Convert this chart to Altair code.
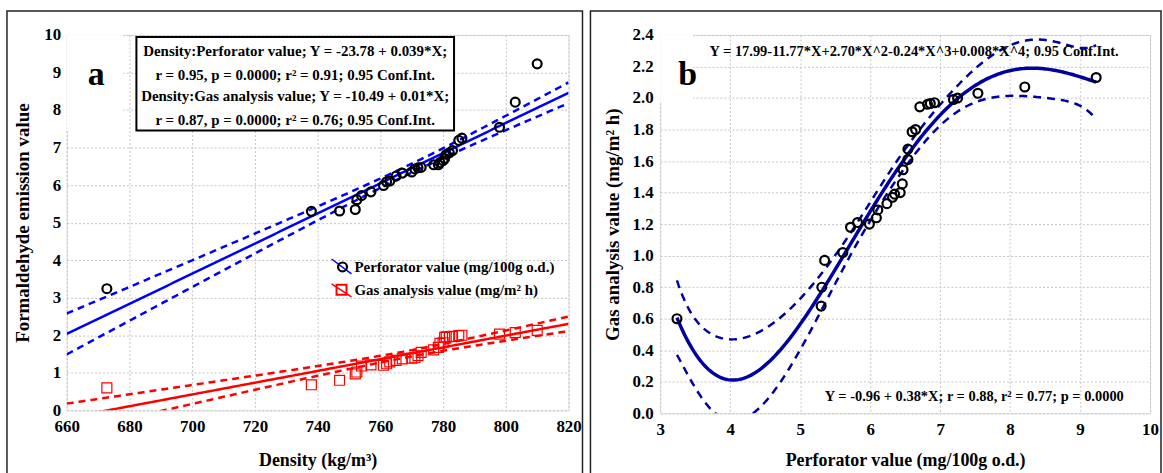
import altair as alt
import numpy as np
import pandas as pd

# ---------------- data ----------------
density = [672.8, 738.0, 747.0, 752.0, 752.5, 754.0, 757.0, 761.0, 762.0, 763.0,
           765.0, 767.0, 770.0, 771.0, 772.0, 773.0, 777.0, 778.5, 779.0, 780.0,
           780.5, 781.0, 782.0, 783.0, 785.0, 786.0, 798.0, 803.0, 810.0]
perforator = [3.24, 5.30, 5.31, 5.35, 5.61, 5.72, 5.82, 5.99, 6.09, 6.11,
              6.24, 6.32, 6.35, 6.43, 6.46, 6.47, 6.54, 6.54, 6.60, 6.65,
              6.71, 6.82, 6.86, 6.92, 7.19, 7.25, 7.54, 8.21, 9.23]
gas = [0.60, 0.68, 0.80, 0.97, 1.02, 1.18, 1.21, 1.20, 1.24, 1.29,
       1.33, 1.37, 1.39, 1.40, 1.455, 1.545, 1.61, 1.676, 1.786, 1.80,
       1.944, 1.96, 1.965, 1.97, 1.99, 2.00, 2.03, 2.07, 2.13]

x_ticks_a = [660, 680, 700, 720, 740, 760, 780, 800, 820]
y_ticks_a = [0, 1, 2, 3, 4, 5, 6, 7, 8, 9, 10]
x_ticks_b = [3, 4, 5, 6, 7, 8, 9, 10]
y_ticks_b = [0.0, 0.2, 0.4, 0.6, 0.8, 1.0, 1.2, 1.4, 1.6, 1.8, 2.0, 2.2, 2.4]

label_perf = "Perforator value (mg/100g o.d.)"
label_gas = "Gas analysis value (mg/m² h)"
note_a = ["Density:Perforator value; Y = -23.78 + 0.039*X;",
          "r = 0.95, p = 0.0000; r² = 0.91; 0.95 Conf.Int.",
          "Density:Gas analysis value; Y = -10.49 + 0.01*X;",
          "r = 0.87, p = 0.0000; r² = 0.76; 0.95 Conf.Int."]
note_b_top = "Y = 17.99-11.77*X+2.70*X^2-0.24*X^3+0.008*X^4; 0.95 Conf.Int."
note_b_bottom = "Y = -0.96 + 0.38*X; r = 0.88, r² = 0.77; p = 0.0000"

FONT = "Liberation Serif, Times New Roman, Times, serif"

# ---------------- fits (computed from the data) ----------------
d = np.array(density)
p = np.array(perforator)
g = np.array(gas)


def poly_band(x, y, grid, deg, t):
    X = np.vander(x, deg + 1)
    coef, *_ = np.linalg.lstsq(X, y, rcond=None)
    resid = y - X @ coef
    s2 = resid @ resid / (len(x) - deg - 1)
    cov = s2 * np.linalg.inv(X.T @ X)
    G = np.vander(grid, deg + 1)
    yhat = G @ coef
    se = np.sqrt(np.einsum("ij,jk,ik->i", G, cov, G))
    return yhat, yhat - t * se, yhat + t * se


grid_a = np.linspace(660, 820, 161)
grid_b = np.linspace(p.min(), p.max(), 240)


def band_frame(grid, fit):
    yhat, lo, hi = fit
    rows = []
    for part, arr in (("fit", yhat), ("lo", lo), ("hi", hi)):
        for xv, yv in zip(grid, arr):
            rows.append({"x": float(xv), "y": float(yv), "part": part})
    return pd.DataFrame(rows)


fit_perf = band_frame(grid_a, poly_band(d, p, grid_a, 1, 2.052))
fit_gas = band_frame(grid_a, poly_band(d, g, grid_a, 1, 2.052))
fit_b = band_frame(grid_b, poly_band(p, g, grid_b, 4, 2.064))

pts_perf = pd.DataFrame({"x": density, "y": perforator})
pts_gas = pd.DataFrame({"x": density, "y": gas})
pts_b = pd.DataFrame({"x": perforator, "y": gas})

# ---------------- helpers ----------------
axis_common = dict(
    labelFont=FONT, labelFontSize=17, labelFontWeight="bold", labelColor="black",
    titleFont=FONT, titleFontWeight="bold", titleColor="black",
    grid=True, gridColor="#c4c4c4", gridDash=[2, 2], gridWidth=1,
    domain=False, ticks=False, labelFlush=False, labelOverlap=False,
)


def one(d=None):
    return alt.Data(values=[d or {"k": 0}])


def text(s, x, y, size, align="center", baseline="middle"):
    return alt.Chart(one({"t": s})).mark_text(
        font=FONT, fontWeight="bold", fontSize=size, align=align,
        baseline=baseline, color="black"
    ).encode(x=alt.value(x), y=alt.value(y), text="t:N")


def rect(x, x2, y, y2, **kw):
    return alt.Chart(one()).mark_rect(**kw).encode(
        x=alt.value(x), x2=alt.value(x2), y=alt.value(y), y2=alt.value(y2))


def rule(x, x2, y, y2, color, width):
    return alt.Chart(one()).mark_rule(color=color, strokeWidth=width).encode(
        x=alt.value(x), x2=alt.value(x2), y=alt.value(y), y2=alt.value(y2))


def marker(x, y, shape, color, size, width):
    return alt.Chart(one()).mark_point(
        shape=shape, filled=False, color=color, size=size, strokeWidth=width, opacity=1
    ).encode(x=alt.value(x), y=alt.value(y))


# ---------------- panel a ----------------
WA, HA = 504, 377
XA = alt.X("x:Q", scale=alt.Scale(domain=[660, 820], nice=False, zero=False),
           axis=alt.Axis(title="Density (kg/m³)", values=x_ticks_a, format="d",
                         titleFontSize=18, labelPadding=8, titlePadding=17, **axis_common))
YA = alt.Y("y:Q", scale=alt.Scale(domain=[0, 10], nice=False, zero=False),
           axis=alt.Axis(title="Formaldehyde emission value", values=y_ticks_a, format="d",
                         titleFontSize=19, labelPadding=6, titlePadding=11, **axis_common))


def lines(df, color, solid_w, dash_w, dash):
    base = alt.Chart(df)
    solid = base.transform_filter(alt.datum.part == "fit").mark_line(
        color=color, strokeWidth=solid_w, clip=True).encode(x=XA, y=YA)
    dashed = base.transform_filter(alt.datum.part != "fit").mark_line(
        color=color, strokeWidth=dash_w, strokeDash=dash, clip=True).encode(
        x=XA, y=YA, detail="part:N")
    return solid + dashed


panel_a = alt.layer(
    rect(0, 57, 0, 96, fill="white", strokeWidth=0),
    lines(fit_perf, "#0000ff", 2.5, 2.5, [7, 5]),
    lines(fit_gas, "#ff0000", 2.5, 2.5, [7, 5]),
    alt.Chart(pts_gas).mark_point(shape="square", filled=False, color="#ff0000",
                                  size=100, strokeWidth=1.2, opacity=1).encode(x=XA, y=YA),
    alt.Chart(pts_perf).mark_point(shape="circle", filled=False, color="black",
                                   size=80, strokeWidth=2.2, opacity=1).encode(x=XA, y=YA),
    rect(70, 389, 2, 96, fill="white", stroke="black", strokeWidth=2),
    text(note_a[0], 229.5, 16, 15),
    text(note_a[1], 229.5, 40, 15),
    text(note_a[2], 229.5, 61, 15),
    text(note_a[3], 229.5, 85, 15),
    text("a", 29.5, 50, 34, baseline="alphabetic"),
    rule(266, 286, 225, 240, "#0000ff", 1.5),
    marker(277, 233, "circle", "black", 80, 2.2),
    text(label_perf, 289, 233, 15, align="left"),
    rule(266, 286, 250, 263, "#ff0000", 1.5),
    marker(276, 256, "square", "#ff0000", 100, 2),
    text(label_gas, 289, 256, 15, align="left"),
    rect(-60, 518, -24, 470, fill="white", fillOpacity=0, stroke="#222222", strokeWidth=1.5),
).properties(width=WA, height=HA)

# ---------------- panel b ----------------
WB, HB = 492, 380
XB = alt.X("x:Q", scale=alt.Scale(domain=[3, 10], nice=False, zero=False),
           axis=alt.Axis(title="Perforator value (mg/100g o.d.)", values=x_ticks_b, format="d",
                         titleFontSize=18, labelPadding=8, titlePadding=14, **axis_common))
YB = alt.Y("y:Q", scale=alt.Scale(domain=[0, 2.4], nice=False, zero=False),
           axis=alt.Axis(title="Gas analysis value (mg/m² h)", values=y_ticks_b, format=".1f",
                         titleFontSize=19, labelPadding=7, titlePadding=10, **axis_common))

base_b = alt.Chart(fit_b)
panel_b = alt.layer(
    rect(0, 33, 0, 68, fill="white", strokeWidth=0),
    base_b.transform_filter(alt.datum.part != "fit").mark_line(
        color="#0000a0", strokeWidth=2.5, strokeDash=[8, 6], clip=True).encode(
        x=XB, y=YB, detail="part:N"),
    base_b.transform_filter(alt.datum.part == "fit").mark_line(
        color="#0000a0", strokeWidth=3.5, clip=True).encode(x=XB, y=YB),
    alt.Chart(pts_b).mark_point(shape="circle", filled=False, color="black",
                                size=80, strokeWidth=2.2, opacity=1).encode(x=XB, y=YB),
    text(note_b_top, 255, 17, 14.5),
    text(note_b_bottom, 315.5, 364, 14.5),
    text("b", 27.5, 50, 34, baseline="alphabetic"),
    rect(-70, 503, -24, 470, fill="white", fillOpacity=0, stroke="#222222", strokeWidth=1.5),
).properties(width=WB, height=HB)

chart = alt.hconcat(panel_a, panel_b, spacing=4).properties(
    padding={"left": 5, "top": 8, "right": 0, "bottom": 0}
).configure_view(stroke="black", strokeWidth=1.5).configure(background="white")

chart.save("out.html", embed_options={"renderer": "svg", "actions": False})
